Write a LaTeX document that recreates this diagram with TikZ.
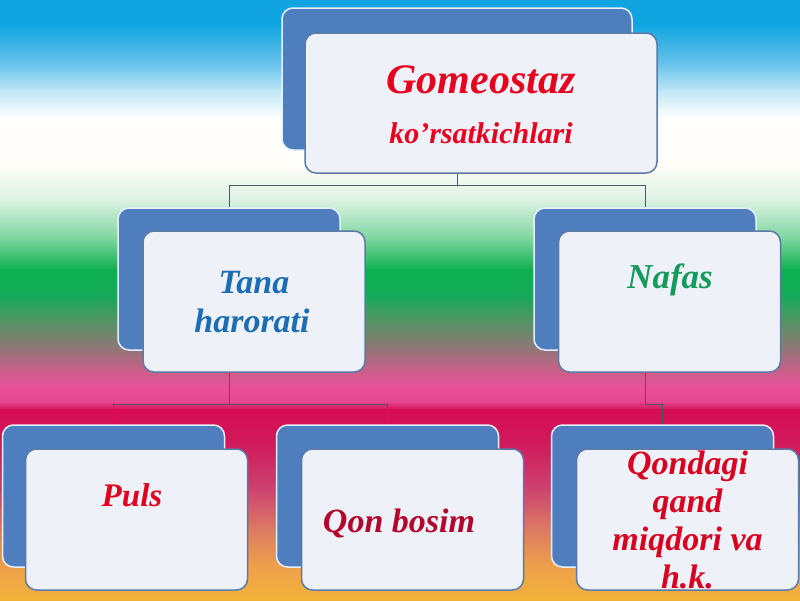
\documentclass[tikz,border=0pt]{standalone}
\usepackage{fontspec}
\setmainfont{Liberation Serif}
\usepackage{xcolor}
\usepackage{tikz}
\usetikzlibrary{positioning}

% background colours
\definecolor{skyA}{HTML}{10A5E0}
\definecolor{skyB}{HTML}{6CC4EC}
\definecolor{skyC}{HTML}{C4E8F6}
\definecolor{creamW}{HTML}{FFFDF8}
\definecolor{mintA}{HTML}{DDF3E3}
\definecolor{mintB}{HTML}{78D49E}
\definecolor{grnA}{HTML}{0DB050}
\definecolor{grnB}{HTML}{14AA5A}
\definecolor{greyG}{HTML}{5E9068}
\definecolor{mauveA}{HTML}{947478}
\definecolor{mauveB}{HTML}{C86088}
\definecolor{pinkA}{HTML}{EA509A}
\definecolor{pinkB}{HTML}{E4468C}
\definecolor{crimA}{HTML}{D60C55}
\definecolor{crimB}{HTML}{D01A5C}
\definecolor{roseA}{HTML}{CC4470}
\definecolor{roseB}{HTML}{DC7C62}
\definecolor{orngA}{HTML}{EDA04C}
\definecolor{orngB}{HTML}{F2B23A}

% box and text colours
\definecolor{backfill}{HTML}{4F7EBE}
\definecolor{backline}{HTML}{E6F0FA}
\definecolor{frontfill}{HTML}{EEF2F8}
\definecolor{frontline}{HTML}{5B7AA5}
\definecolor{connline}{HTML}{4A5868}
\definecolor{redG}{HTML}{E8001F}
\definecolor{blueT}{HTML}{1C6DB3}
\definecolor{greenN}{HTML}{149A5A}
\definecolor{redP}{HTML}{E2001E}
\definecolor{redQ}{HTML}{B3062C}
\definecolor{redM}{HTML}{D9001F}

\tikzset{
  backbox/.style={draw=backline, line width=1.5pt, fill=backfill,
    rounded corners=11pt, minimum width=222pt, minimum height=142pt, inner sep=0pt},
  frontbox/.style={draw=frontline, line width=1.5pt, fill=frontfill,
    rounded corners=11pt, minimum width=222pt, minimum height=141pt, inner sep=0pt},
  conn/.style={draw=connline, line width=1pt},
  lbl/.style={anchor=base, inner sep=0pt,
    font=\bfseries\itshape\fontsize{#1}{38}\selectfont}
}

\begin{document}
\begin{tikzpicture}[x=1pt,y=-1pt]
\useasboundingbox (0,0) rectangle (800,600);

% ---------------- Background bands ----------------
\foreach \ya/\yb/\ca/\cb in {
  0/25/skyA/skyA, 25/65/skyA/skyB, 65/92/skyB/skyC, 92/118/skyC/white,
  118/165/white/creamW, 165/200/creamW/mintA, 200/240/mintA/mintB,
  240/270/mintB/grnA, 270/295/grnA/grnB, 295/325/grnB/greyG,
  325/350/greyG/mauveA, 350/370/mauveA/mauveB, 370/388/mauveB/pinkA,
  388/402/pinkA/pinkB, 402/410/pinkB/crimA, 410/445/crimA/crimB,
  445/490/crimB/roseA, 490/530/roseA/roseB, 530/565/roseB/orngA,
  565/600/orngA/orngB}{
  \shade[top color=\ca, bottom color=\cb] (0,\ya-0.5) rectangle (800,\yb+0.5);
}

% ---------------- Back boxes ----------------
\node[backbox, minimum width=350pt] (gback) at (457,79) {};
\node[backbox] (tback) at (229,279) {};
\node[backbox] (nback) at (645,279) {};
\node[backbox] (pback) at (113.5,496) {};
\node[backbox] (qback) at (387.5,496) {};
\node[backbox] (mback) at (662.5,496) {};

% ---------------- Connectors ----------------
\coordinate (gj) at (457,185);
\draw[conn] (gback.south) -- (gj) -| (tback.north);
\draw[conn] (gj) -| (nback.north);

\coordinate (tj) at (229,404);
\draw[conn] (tback.south) -- (tj) -| (pback.north);
\draw[conn] (tj) -| (qback.north);

\coordinate (nj) at (645,404);
\draw[conn] (nback.south) -- (nj) -| (mback.north);

% ---------------- Front boxes ----------------
\node[frontbox, minimum width=352pt, minimum height=140pt] (gfront) at (481,103) {};
\node[frontbox] (tfront) at (254,301.5) {};
\node[frontbox] (nfront) at (669.5,301.5) {};
\node[frontbox] (pfront) at (136.5,519.5) {};
\node[frontbox] (qfront) at (412.5,519.5) {};
\node[frontbox, align=center, text=redM,
  font=\bfseries\itshape\fontsize{34}{38}\selectfont] (mfront) at (687.5,519.5)
  {Qondagi\\qand\\miqdori va\\h.k.};

% ---------------- Labels ----------------
\node[lbl=42, text=redG] (gtitle) at (481,93) {Gomeostaz};
\node[lbl=30, text=redG] (gsub) at (481,143) {ko’rsatkichlari};
\node[lbl=34, text=blueT] (ttop) at (254,293) {Tana};
\node[lbl=34, text=blueT] (tbot) at (252,332) {harorati};
\node[lbl=35, text=greenN] (ntext) at (670,288) {Nafas};
\node[lbl=33, text=redP] (ptext) at (132,506) {Puls};
\node[lbl=34, text=redQ] (qtext) at (399,532) {Qon bosim};

\end{tikzpicture}
\end{document}
